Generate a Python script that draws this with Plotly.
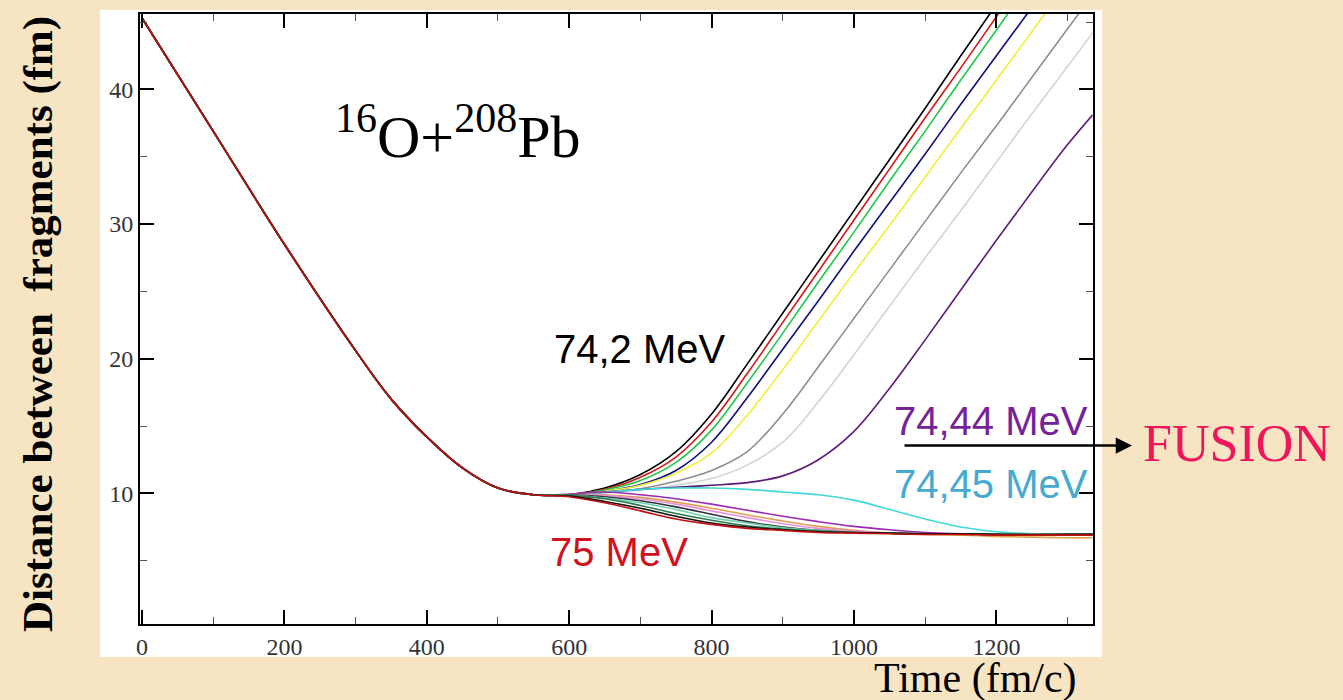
import plotly.graph_objects as go

# ---------------- data ----------------
# common approach phase (all energies overlap)
approach_time = [0, 100, 200, 300, 350, 400, 450, 500, 550]
approach_dist = [45.3, 36.9, 28.5, 20.6, 17.0, 14.2, 11.9, 10.4, 9.9]

# separation phase
late_time = [600, 650, 700, 750, 800, 850, 900, 950, 1000, 1050, 1100, 1150, 1200, 1250, 1300, 1335]

# re-separating (quasi-elastic) trajectories, lowest energy first
black_up   = [9.9, 10.4, 11.4, 13.1, 15.9, 19.6, 23.4, 27.2, 31.0, 34.8, 38.6, 42.5, 46.3, 50.1, 53.9, 56.5]
red_up     = [9.9, 10.3, 11.2, 12.7, 15.3, 18.9, 22.7, 26.5, 30.3, 34.1, 37.9, 41.6, 45.4, 49.2, 53.0, 55.6]
green_up   = [9.9, 10.25, 10.95, 12.3, 14.7, 18.2, 21.9, 25.7, 29.4, 33.2, 36.9, 40.7, 44.4, 48.2, 51.9, 54.5]
blue_up    = [9.9, 10.15, 10.65, 11.7, 13.8, 17.1, 20.7, 24.3, 28.0, 31.6, 35.2, 38.9, 42.5, 46.1, 49.7, 52.3]
yellow_up  = [9.9, 10.15, 10.6, 11.5, 13.0, 15.8, 19.2, 22.8, 26.4, 29.9, 33.5, 37.1, 40.7, 44.3, 47.9, 50.4]
gray_up    = [9.9, 10.05, 10.35, 10.9, 11.7, 13.1, 15.9, 19.4, 23.0, 26.6, 30.2, 33.8, 37.3, 40.9, 44.5, 47.0]
lgray_up   = [9.9, 10.05, 10.25, 10.6, 11.1, 12.1, 13.8, 16.8, 20.3, 23.9, 27.5, 31.0, 34.6, 38.2, 41.7, 44.2]
purple_up  = [9.9, 10.1, 10.3, 10.45, 10.6, 10.8, 11.3, 12.5, 14.6, 17.8, 21.4, 25.1, 28.8, 32.4, 35.9, 38.1]

# fusing trajectories, highest energy (75 MeV) first
red_75     = [9.75, 9.3, 8.7, 8.1, 7.7, 7.4, 7.25, 7.1, 7.05, 7.0, 6.95, 6.95, 6.9, 6.9, 6.9, 6.9]
black_lo   = [9.8, 9.4, 8.9, 8.3, 7.8, 7.5, 7.3, 7.15, 7.1, 7.05, 7.0, 7.0, 6.95, 6.95, 6.95, 6.95]
green_lo   = [9.85, 9.6, 9.1, 8.5, 8.0, 7.6, 7.35, 7.2, 7.1, 7.05, 7.0, 7.0, 7.0, 6.95, 6.95, 6.95]
teal_lo    = [9.85, 9.65, 9.3, 8.8, 8.2, 7.8, 7.45, 7.25, 7.1, 7.05, 7.0, 7.0, 7.0, 7.0, 6.95, 6.95]
dgray_lo   = [9.9, 9.75, 9.45, 9.0, 8.45, 7.9, 7.5, 7.25, 7.1, 7.05, 7.0, 7.0, 7.0, 7.0, 7.0, 7.0]
pink_lo    = [9.9, 9.85, 9.6, 9.2, 8.7, 8.2, 7.75, 7.4, 7.2, 7.05, 7.0, 7.0, 7.0, 7.0, 7.0, 7.0]
orange_lo  = [9.9, 9.9, 9.7, 9.35, 8.9, 8.4, 7.95, 7.55, 7.25, 7.05, 6.95, 6.9, 6.8, 6.75, 6.7, 6.7]
magenta_lo = [9.95, 10.1, 9.9, 9.6, 9.2, 8.75, 8.3, 7.9, 7.55, 7.3, 7.1, 7.0, 7.0, 7.0, 7.0, 7.0]
cyan_lo    = [9.9, 10.1, 10.3, 10.4, 10.4, 10.3, 10.1, 9.9, 9.5, 8.8, 8.1, 7.5, 7.15, 7.0, 6.95, 6.95]

curves = [
    (black_up, "#000000"), (red_up, "#D01818"), (green_up, "#20C84A"),
    (blue_up, "#10107A"), (yellow_up, "#EEF03A"), (gray_up, "#8E8E8E"),
    (lgray_up, "#D4D4D4"), (purple_up, "#5E1A78"),
    (cyan_lo, "#40D8D8"), (magenta_lo, "#9A2AB0"), (orange_lo, "#E0A050"),
    (pink_lo, "#E890D8"), (dgray_lo, "#303040"), (teal_lo, "#70D0B0"),
    (green_lo, "#2A7A4A"), (black_lo, "#101010"), (red_75, "#C01010"),
]

x_ticks = [0, 200, 400, 600, 800, 1000, 1200]
y_ticks = [10, 20, 30, 40]

# ---------------- figure ----------------
fig = go.Figure()
for vals, col in curves:
    fig.add_trace(go.Scatter(
        x=approach_time + late_time, y=approach_dist + vals,
        mode="lines", line=dict(color=col, width=1.6, shape="spline", smoothing=1.0),
        showlegend=False, hoverinfo="skip"))

W, H = 1343, 700
L, R, T, B = 140, 250, 12, 76
pw, ph = W - L - R, H - T - B

def px(x):  # pixel -> paper x
    return (x - L) / pw

def py(y):  # pixel -> paper y
    return (H - B - y) / ph

axis_common = dict(
    showline=True, linecolor="black", linewidth=2, mirror="ticks",
    ticks="inside", ticklen=14, tickwidth=1.5, tickcolor="black",
    showgrid=False, zeroline=False,
    tickfont=dict(family="Liberation Serif", size=24, color="#333333"),
)

fig.update_xaxes(range=[-2.8, 1335.7], tickvals=x_ticks,
                 minor=dict(ticks="inside", ticklen=7, tickwidth=1, tickcolor="#555555", dtick=100, tick0=0),
                 **axis_common)
fig.update_yaxes(range=[0.3, 45.6], tickvals=y_ticks,
                 minor=dict(ticks="inside", ticklen=7, tickwidth=1, tickcolor="#555555", dtick=5, tick0=0),
                 **axis_common)

shapes = [dict(type="rect", xref="paper", yref="paper", layer="below",
               x0=px(100), x1=px(1102), y0=py(657), y1=py(8),
               fillcolor="white", line=dict(width=0))]

annotations = [
    dict(text="Distance between  fragments (fm)", xref="paper", yref="paper",
         x=px(38), y=py(323), textangle=-90, showarrow=False,
         xanchor="center", yanchor="middle",
         font=dict(family="Liberation Serif", size=43, color="black", weight="bold")),
    dict(text="Time (fm/c)", xref="paper", yref="paper", x=px(1079), y=py(679),
         xanchor="right", yanchor="middle", showarrow=False,
         font=dict(family="Liberation Serif", size=42, color="black")),
    dict(text="<sup>16</sup>O+<sup>208</sup>Pb", xref="paper", yref="paper",
         x=px(333), y=py(131), xanchor="left", yanchor="middle", showarrow=False,
         font=dict(family="Liberation Serif", size=60, color="black")),
    dict(text="74,2 MeV", xref="paper", yref="paper", x=px(640), y=py(348),
         xanchor="center", yanchor="middle", showarrow=False,
         font=dict(family="Liberation Sans", size=40, color="black")),
    dict(text="75 MeV", xref="paper", yref="paper", x=px(548), y=py(552),
         xanchor="left", yanchor="middle", showarrow=False,
         font=dict(family="Liberation Sans", size=40, color="#D0121E")),
    dict(text="74,44 MeV", xref="paper", yref="paper", x=px(892), y=py(420),
         xanchor="left", yanchor="middle", showarrow=False,
         font=dict(family="Liberation Sans", size=40, color="#76229A")),
    dict(text="74,45 MeV", xref="paper", yref="paper", x=px(892), y=py(484),
         xanchor="left", yanchor="middle", showarrow=False,
         font=dict(family="Liberation Sans", size=40, color="#46AACF")),
    dict(text="", xref="paper", yref="paper", x=px(1132), y=py(445),
         ax=903 - 1132, ay=0, showarrow=True, arrowhead=2, arrowsize=1.3,
         arrowwidth=2.5, arrowcolor="black"),
    dict(text="FUSION", xref="paper", yref="paper", x=px(1141), y=py(443),
         xanchor="left", yanchor="middle", showarrow=False,
         font=dict(family="Liberation Serif", size=52, color="#F0145A")),
]

fig.update_layout(
    width=W, height=H, margin=dict(l=L, r=R, t=T, b=B),
    paper_bgcolor="#F6E4C2", plot_bgcolor="white",
    shapes=shapes, annotations=annotations, showlegend=False,
)

fig.write_html("out.html")
